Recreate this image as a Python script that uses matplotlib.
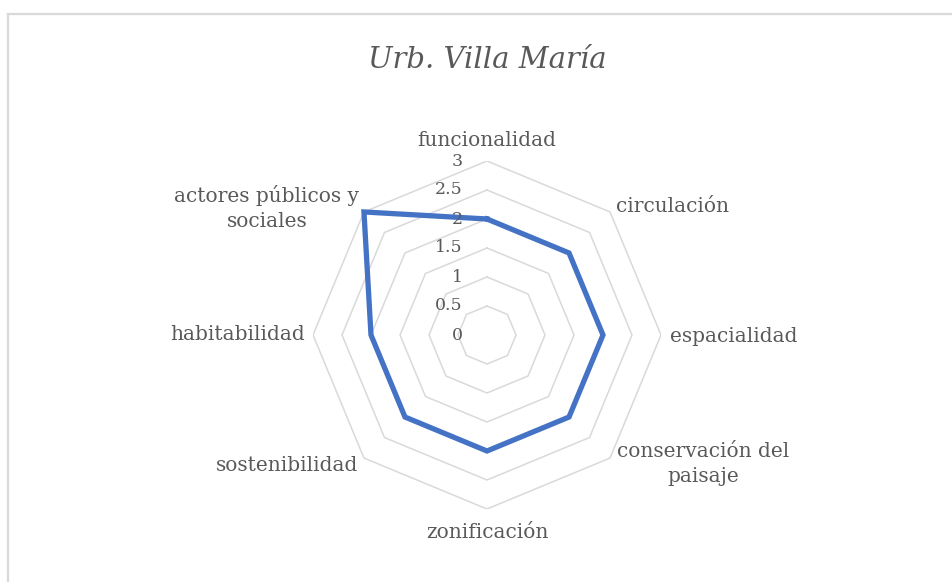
import numpy as np
import matplotlib.pyplot as plt
from matplotlib.lines import Line2D

categories = ["funcionalidad", "circulación", "espacialidad", "conservación del\npaisaje",
              "zonificación", "sostenibilidad", "habitabilidad", "actores públicos y\nsociales"]
values = [2, 2, 2, 2, 2, 2, 2, 3]
rticks = [0, 0.5, 1, 1.5, 2, 2.5, 3]
rtick_labels = ["0", "0.5", "1", "1.5", "2", "2.5", "3"]
title = "Urb. Villa María"

plt.rcParams['font.family'] = ['DejaVu Serif']
txt = "#595959"
grid_col = "#d9d9d9"
line_col = "#4472C4"

W, H = 953, 582
fig = plt.figure(figsize=(W / 100, H / 100), dpi=100)

# chart border: only top and left edges fall inside the crop
bx, by = 8.5 / W, 1 - 13.5 / H
fig.add_artist(Line2D([bx, 1.05], [by, by], transform=fig.transFigure, color=grid_col, lw=1.6))
fig.add_artist(Line2D([bx, bx], [-0.05, by], transform=fig.transFigure, color=grid_col, lw=1.6))

cx, cy, R = 487, 335, 174
ax = fig.add_axes([(cx - R) / W, (H - cy - R) / H, 2 * R / W, 2 * R / H])
rmax = 3
ax.set_xlim(-rmax, rmax)
ax.set_ylim(-rmax, rmax)
ax.axis("off")

n = len(categories)
theta = np.arange(n) * 2 * np.pi / n  # clockwise from top


def xy(r, t):
    return r * np.sin(t), r * np.cos(t)


# octagon gridlines
tt = np.append(theta, theta[0])
for r in rticks[1:]:
    gx, gy = xy(r, tt)
    ax.plot(gx, gy, color=grid_col, lw=1.1, zorder=1)

# data line
vv = np.append(values, values[0])
dx, dy = xy(vv, tt)
ax.plot(dx, dy, color=line_col, lw=3.8, solid_joinstyle="miter", zorder=3)

# radial tick labels
for r, lab in zip(rticks, rtick_labels):
    ax.annotate(lab, (0, r), xytext=(-24, 0), textcoords="offset pixels",
                ha="right", va="center", fontsize=12.5, color=txt)

# category labels
offsets = [(0, 20, "center"), (6, 5, "left"), (9, -1, "left"), (93, -6, "center"),
           (0, -24, "center"), (-6, -7, "right"), (-8, 0, "right"), (-97, 4, "center")]
for lab, t, (ox, oy, ha) in zip(categories, theta, offsets):
    px, py = xy(rmax, t)
    ax.annotate(lab, (px, py), xytext=(ox, oy), textcoords="offset pixels",
                ha=ha, va="center", multialignment="center", fontsize=14.5,
                color=txt, linespacing=1.45)

fig.text(487 / W, 1 - 60 / H, title, ha="center", va="center", fontsize=21,
         style="italic", color=txt)

fig.savefig("out.png", dpi=100)
